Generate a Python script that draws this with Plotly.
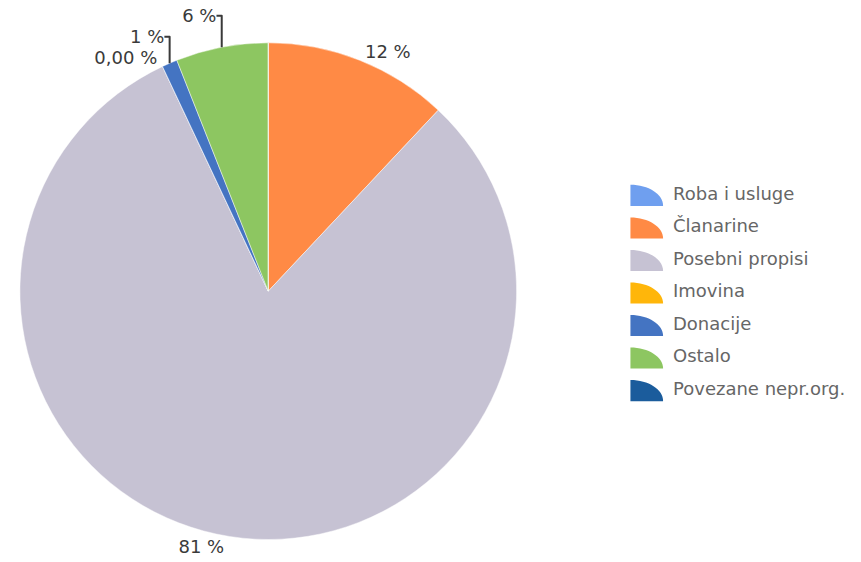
import plotly.graph_objects as go

# Income sources and their shares (percent)
categories = ["Roba i usluge", "Članarine", "Posebni propisi", "Imovina",
              "Donacije", "Ostalo", "Povezane nepr.org."]
shares = [0, 12, 81, 0, 1, 6, 0]
slice_labels = ["", "12 %", "81 %", "0,00 %", "1 %", "6 %", ""]
colors = ["#6F9FEF", "#FF8A45", "#C6C2D3", "#FFB60A",
          "#4474C2", "#8DC661", "#1B5C9C"]

W, H = 861, 562

fig = go.Figure()
fig.add_trace(go.Pie(
    labels=categories,
    values=shares,
    text=slice_labels,
    textinfo="text",
    textposition="outside",
    sort=False,
    direction="clockwise",
    rotation=0,
    showlegend=False,
    hoverinfo="label+percent",
    marker=dict(colors=colors, line=dict(color="rgba(255,255,255,0.45)", width=1)),
    outsidetextfont=dict(family="DejaVu Sans", size=18, color="#3a3a3a"),
    domain=dict(x=[3 / W, 521 / W], y=[1 - 556 / H, 1 - 14 / H]),
))

# Hand-drawn legend with quarter-wedge swatches
shapes = []
annotations = []
x0, rx, ry = 628, 33, 23
k = 0.5523
px = lambda v: v / W
py = lambda v: 1 - v / H
for i, (name, col) in enumerate(zip(categories, colors)):
    yb = 192 + i * 35.5
    path = (f"M {px(x0)},{py(yb)} L {px(x0)},{py(yb - ry)} "
            f"C {px(x0 + k * rx)},{py(yb - ry)} {px(x0 + rx)},{py(yb - k * ry)} "
            f"{px(x0 + rx)},{py(yb)} Z")
    shapes.append(dict(type="path", xref="paper", yref="paper", path=path,
                       fillcolor=col, line=dict(width=0)))
    annotations.append(dict(x=px(669), y=py(yb - 14), xref="paper", yref="paper",
                            text=name, showarrow=False, xanchor="left",
                            yanchor="middle",
                            font=dict(family="DejaVu Sans", size=18, color="#666666")))

fig.update_layout(
    width=W, height=H,
    margin=dict(l=0, r=0, t=0, b=0),
    paper_bgcolor="white",
    plot_bgcolor="white",
    shapes=shapes,
    annotations=annotations,
)

fig.write_html("out.html")
